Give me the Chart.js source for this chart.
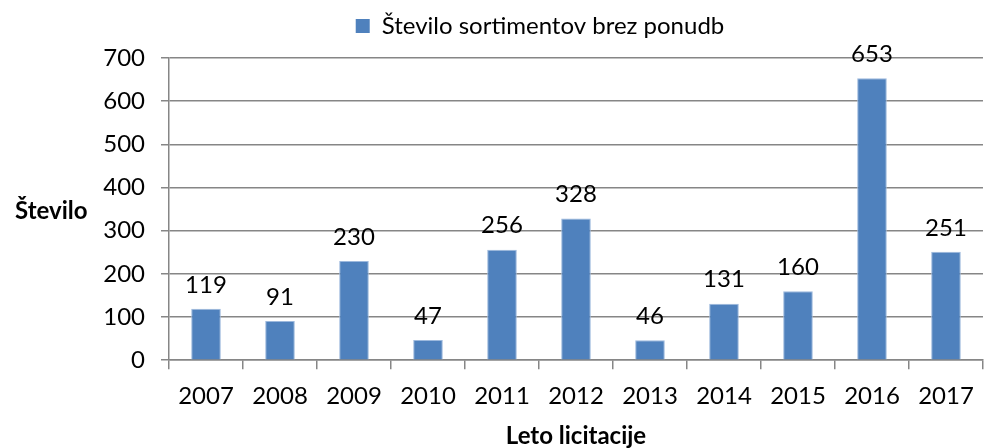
<!DOCTYPE html>
<html>
<head>
<meta charset="utf-8">
<script src="https://cdn.jsdelivr.net/npm/chart.js@4"></script>
<style>
  html, body { margin: 0; padding: 0; background: #fff; }
  #wrap { width: 987px; height: 448px; }
</style>
</head>
<body>
<div id="wrap"><canvas id="chart_sortimenti"></canvas></div>
<script>
// podatki
let leta = ['2007', '2008', '2009', '2010', '2011', '2012', '2013', '2014', '2015', '2016', '2017'];
let brezPonudb = [119, 91, 230, 47, 256, 328, 46, 131, 160, 653, 251];
let yTicks = [0, 100, 200, 300, 400, 500, 600, 700];

let pisava = 'Lato, "Open Sans", sans-serif';
let modra = '#4F81BD';
let siva = '#868686';

// oznake vrednosti nad stolpci + naslov y osi (vodoraven)
let oznake = {
    id: 'oznake',
    beforeInit(chart) {
        // malo vec prostora pod legendo
        let legenda = chart.legend;
        if (legenda) {
            let fit = legenda.fit;
            legenda.fit = function () {
                fit.call(this);
                this.height += 10;
            };
        }
    },
    afterDatasetsDraw(chart) {
        let ctx = chart.ctx;
        let meta = chart.getDatasetMeta(0);
        ctx.save();
        ctx.font = '24px ' + pisava;
        ctx.fillStyle = '#000';
        ctx.textAlign = 'center';
        ctx.textBaseline = 'bottom';
        meta.data.forEach(function (bar, i) {
            ctx.fillText(String(brezPonudb[i]), bar.x, bar.y - 12);
        });
        ctx.font = 'bold 24px ' + pisava;
        ctx.textAlign = 'left';
        ctx.textBaseline = 'middle';
        ctx.fillText('Število', 15, 211);
        ctx.restore();
    }
};

let ctx_sortimenti = document.getElementById("chart_sortimenti");
let chart_sortimenti = new Chart(ctx_sortimenti, {
    type: 'bar',
    data: {
        labels: leta,
        datasets: [{
            label: 'Število sortimentov brez ponudb',
            data: brezPonudb,
            backgroundColor: modra,
            borderColor: '#9DB9DD',
            borderWidth: 1,
            barPercentage: 0.4,
            categoryPercentage: 1
        }]
    },
    options: {
        responsive: true,
        maintainAspectRatio: false,
        animation: false,
        layout: {
            padding: { left: 97, right: 4, top: 0, bottom: 0 }
        },
        plugins: {
            legend: {
                display: true,
                position: 'top',
                labels: {
                    boxWidth: 14,
                    boxHeight: 14,
                    padding: 14,
                    color: '#000',
                    font: { family: pisava, size: 24 },
                    generateLabels: function (chart) {
                        return [{
                            text: chart.data.datasets[0].label,
                            fillStyle: modra,
                            strokeStyle: modra,
                            lineWidth: 0,
                            datasetIndex: 0
                        }];
                    }
                }
            },
            tooltip: { enabled: false }
        },
        scales: {
            x: {
                grid: {
                    offset: true,
                    drawOnChartArea: false,
                    drawTicks: true,
                    tickLength: 9,
                    color: siva,
                    lineWidth: 1.5
                },
                border: { color: siva, width: 1.5 },
                ticks: {
                    color: '#000',
                    padding: 13,
                    font: { family: pisava, size: 24 }
                },
                title: {
                    display: true,
                    text: 'Leto licitacije',
                    color: '#000',
                    font: { family: pisava, size: 24, weight: 'bold', lineHeight: 1 },
                    padding: { top: 0, bottom: 0 }
                }
            },
            y: {
                min: 0,
                max: 700,
                afterFit: function (scale) { scale.width = 72; },
                afterBuildTicks: function (scale) {
                    scale.ticks = yTicks.map(function (v) { return { value: v }; });
                },
                grid: {
                    color: siva,
                    lineWidth: 1.5,
                    tickLength: 8
                },
                border: { color: siva, width: 1.5 },
                ticks: {
                    color: '#000',
                    padding: 16,
                    font: { family: pisava, size: 24 }
                }
            }
        }
    },
    plugins: [oznake]
});
</script>
</body>
</html>
